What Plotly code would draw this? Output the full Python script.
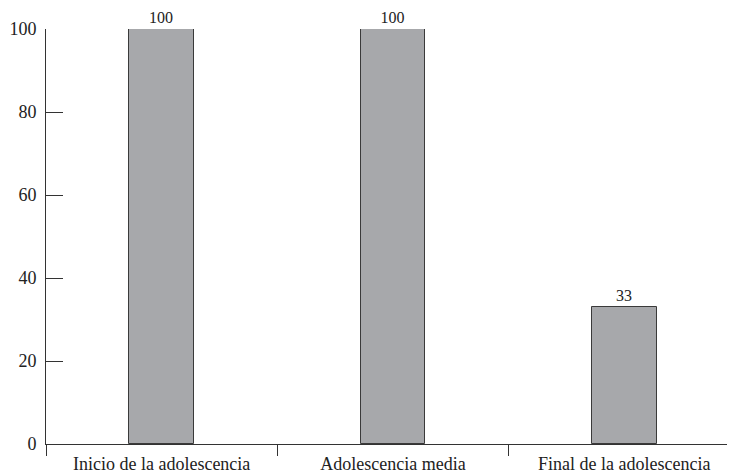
import plotly.graph_objects as go

categories = ["Inicio de la adolescencia", "Adolescencia media", "Final de la adolescencia"]
values = [100, 100, 33]
ytick_vals = [0, 20, 40, 60, 80, 100]

fig = go.Figure(go.Bar(
    x=categories, y=values,
    width=0.28,
    marker=dict(color="#a7a8ab", line=dict(color="#3a3a3a", width=1)),
    text=[str(v) for v in values], textposition="outside",
    textfont=dict(family="Liberation Serif", size=16, color="#222"),
    cliponaxis=False,
))

# page body has an 8px margin, so the figure is sized/offset to compensate
fig.update_layout(
    width=727, height=466,
    margin=dict(l=38, r=0, t=21, b=30),
    paper_bgcolor="white", plot_bgcolor="white",
    showlegend=False,
    font=dict(family="Liberation Serif", size=18, color="#222"),
    bargap=0,
)
fig.update_xaxes(
    type="category", range=[-0.5, 2.479], automargin=False,
    showline=True, linecolor="#333", linewidth=1,
    ticks="outside", tickson="boundaries", ticklen=11, tickcolor="#333",
    ticklabelstandoff=3,
    showgrid=False, zeroline=False,
    tickfont=dict(family="Liberation Serif", size=18, color="#222"),
)
fig.update_yaxes(
    range=[0, 100], tickvals=ytick_vals, automargin=False,
    showline=True, linecolor="#333", linewidth=1,
    ticks="inside", ticklen=17, tickcolor="#333",
    ticklabelstandoff=5,
    showgrid=False, zeroline=False,
    tickfont=dict(family="Liberation Serif", size=18, color="#222"),
)

fig.write_html("out.html")
